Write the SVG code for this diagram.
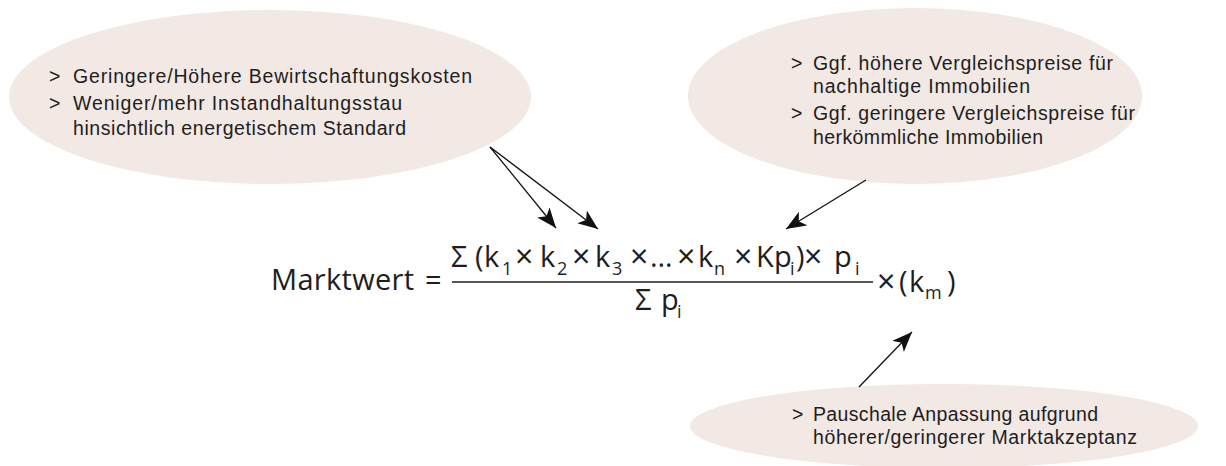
<svg xmlns="http://www.w3.org/2000/svg" width="1226" height="466" viewBox="0 0 1226 466">
  <defs>
    <style>
      .bubble { fill: #F2E8E4; stroke: none; }
      .bt { font-family: "Liberation Sans", Arial, sans-serif; font-size: 19.5px; fill: #1e1e1e; }
      .f { font-family: "Open Sans", "Noto Sans", "Liberation Sans", sans-serif; font-size: 29px; fill: #1e1e1e; }
      .x { font-family: "Open Sans", "Noto Sans", "Liberation Sans", sans-serif; font-size: 32px; fill: #1e1e1e; }
      .s { font-family: "Open Sans", "Noto Sans", "Liberation Sans", sans-serif; font-size: 18px; fill: #1e1e1e; }
      .conn { stroke: #111; stroke-width: 1.3; fill: none; marker-end: url(#ah); }
    </style>
    <marker id="ah" markerUnits="userSpaceOnUse" markerWidth="22" markerHeight="18" refX="20" refY="8" orient="auto" viewBox="0 0 22 18">
      <path d="M0,0 L20,8 L0,16 L5,8 z" fill="#111"/>
    </marker>
  </defs>
  <rect width="1226" height="466" fill="#ffffff"/>

  <g id="node-costs">
    <ellipse class="bubble" cx="270" cy="97" rx="261" ry="87"/>
    <text class="bt"><tspan x="49" y="83">&gt;</tspan><tspan x="73" y="83" textLength="399">Geringere/Höhere Bewirtschaftungskosten</tspan></text>
    <text class="bt"><tspan x="49" y="110">&gt;</tspan><tspan x="73" y="110" textLength="329">Weniger/mehr Instandhaltungsstau</tspan><tspan x="73" y="135" textLength="333">hinsichtlich energetischem Standard</tspan></text>
  </g>

  <g id="node-prices">
    <ellipse class="bubble" cx="915" cy="96" rx="227" ry="88"/>
    <text class="bt"><tspan x="791" y="70">&gt;</tspan><tspan x="813" y="70" textLength="300">Ggf. höhere Vergleichspreise für</tspan><tspan x="813" y="93" textLength="217">nachhaltige Immobilien</tspan></text>
    <text class="bt"><tspan x="791" y="120">&gt;</tspan><tspan x="813" y="120" textLength="322">Ggf. geringere Vergleichspreise für</tspan><tspan x="813" y="144" textLength="230">herkömmliche Immobilien</tspan></text>
  </g>

  <g id="node-market">
    <ellipse class="bubble" cx="944" cy="426" rx="254" ry="42"/>
    <text class="bt"><tspan x="792" y="421">&gt;</tspan><tspan x="813" y="421" textLength="285">Pauschale Anpassung aufgrund</tspan><tspan x="813" y="444" textLength="324">höherer/geringerer Marktakzeptanz</tspan></text>
  </g>

  <g id="formula">
    <text class="f" x="271" y="290" textLength="143">Marktwert</text>
    <text class="f" x="425" y="290">=</text>
    <line x1="452" y1="282" x2="873" y2="282" stroke="#1e1e1e" stroke-width="1.3"/>
    <text class="f" x="451" y="267">Σ</text>
    <text class="f" x="475" y="267">(</text>
    <text class="f" x="484" y="267">k</text>
    <text class="s" x="502" y="275">1</text>
    <text class="x" x="515" y="268">×</text>
    <text class="f" x="540" y="267">k</text>
    <text class="s" x="557" y="275">2</text>
    <text class="x" x="572" y="268">×</text>
    <text class="f" x="595" y="267">k</text>
    <text class="s" x="612" y="275">3</text>
    <text class="x" x="630" y="268">×</text>
    <text class="f" x="650" y="267">…</text>
    <text class="x" x="677" y="268">×</text>
    <text class="f" x="698" y="267">k</text>
    <text class="s" x="714" y="275">n</text>
    <text class="x" x="734" y="268">×</text>
    <text class="f" x="756" y="267">K</text>
    <text class="f" x="774" y="267">p</text>
    <text class="s" x="790" y="275">i</text>
    <text class="f" x="796" y="267">)</text>
    <text class="x" x="804" y="268">×</text>
    <text class="f" x="834" y="267">p</text>
    <text class="s" x="855" y="275">i</text>
    <text class="f" x="635" y="310">Σ</text>
    <text class="f" x="661" y="310">p</text>
    <text class="s" x="677" y="318">i</text>
    <text class="x" x="877" y="293">×</text>
    <text class="f" x="899" y="292">(</text>
    <text class="f" x="909" y="292">k</text>
    <text class="s" x="925" y="299">m</text>
    <text class="f" x="947" y="292">)</text>
  </g>

  <g id="connectors">
    <line class="conn" x1="490" y1="147" x2="556" y2="228"/>
    <line class="conn" x1="490" y1="147" x2="598" y2="229"/>
    <line class="conn" x1="866" y1="180" x2="786" y2="229"/>
    <line class="conn" x1="859" y1="387" x2="912" y2="332"/>
  </g>
</svg>
